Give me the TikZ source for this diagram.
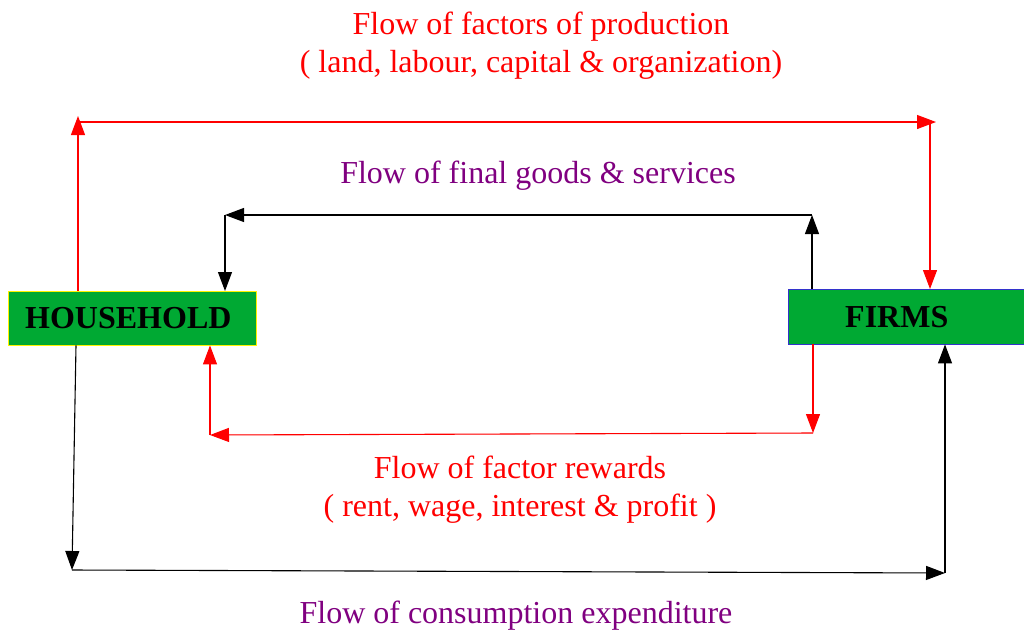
\documentclass[tikz,border=0pt]{standalone}
\usepackage{fontspec}
\setmainfont{Liberation Serif}
\usetikzlibrary{arrows.meta}
\definecolor{boxgreen}{HTML}{00A933}
\definecolor{flowpurple}{HTML}{800080}
\tikzset{
    sector/.style={fill=boxgreen, anchor=north west, inner ysep=0pt, align=left,
        font=\fontsize{32}{34}\selectfont\bfseries},
    flow/.style={line width=1.1pt, -{Triangle[length=19pt,width=14pt]}},
    redflow/.style={flow, draw=red, fill=red},
    blackflow/.style={flow, draw=black},
    flowtext/.style={align=center, font=\fontsize{32}{38}\selectfont},
}
\begin{document}
\begin{tikzpicture}[x=1pt,y=-1pt]
\useasboundingbox (0,0) rectangle (1024,630);

\node[sector, draw=yellow, inner xsep=17pt, text width=214pt, minimum height=54pt] (household) at (8,291) {HOUSEHOLD};
\node[sector, draw=blue!60!gray, inner xsep=57pt, text width=126pt, minimum height=55pt] (firms) at (788,289) {FIRMS};

% factors of production
\coordinate (prodTip) at (78,116);
\coordinate (prodL) at (78,122);
\coordinate (prodR) at (936,122);
\coordinate (prodD) at (930,122);
\draw[redflow] ([xshift=70pt]household.north west) -- (prodTip);
\draw[redflow] (prodL) -- (prodR);
\draw[redflow] (prodD) -- ([xshift=142pt]firms.north west);

% final goods
\coordinate (goodsR) at (812,215);
\coordinate (goodsL) at (225,215);
\draw[blackflow] ([xshift=24pt]firms.north west) -- (goodsR);
\draw[blackflow] (goodsR) -- (goodsL);
\draw[blackflow] (goodsL) -- ([xshift=217pt]household.north west);

% factor rewards
\coordinate (rewardR) at (813,433);
\coordinate (rewardL) at (210,435);
\draw[redflow] ([xshift=25pt]firms.south west) -- (rewardR);
\draw[redflow] (rewardR) -- (rewardL);
\draw[redflow] (rewardL) -- ([xshift=202pt]household.south west);

% consumption expenditure
\coordinate (spendL) at (72,570);
\coordinate (spendR) at (945,573);
\draw[blackflow] ([xshift=68pt]household.south west) -- (spendL);
\draw[blackflow] (spendL) -- (spendR);
\draw[blackflow] (spendR) -- ([xshift=157pt]firms.south west);

\node[flowtext, text=red] (factors) at (541,46) {Flow of factors of production\\( land, labour, capital \& organization)};
\node[flowtext, text=flowpurple] (goods) at (538,176) {Flow of final goods \& services};
\node[flowtext, text=red] (rewards) at (520,490) {Flow of factor rewards\\( rent, wage, interest \& profit )};
\node[flowtext, text=flowpurple] (spending) at (516,616) {Flow of consumption expenditure};
\end{tikzpicture}
\end{document}
